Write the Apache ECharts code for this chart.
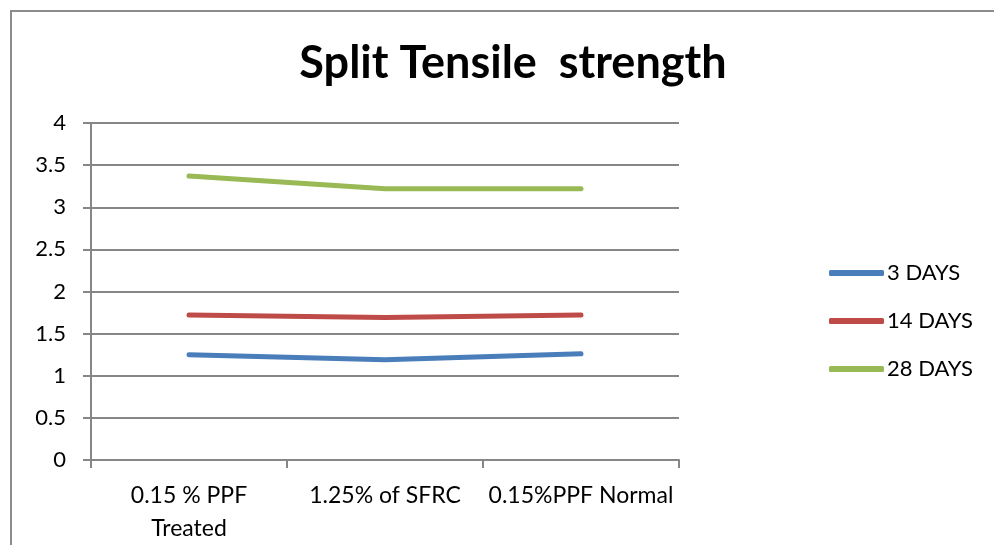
<!DOCTYPE html>
<html><head><meta charset="utf-8">
<script src="https://cdn.jsdelivr.net/npm/echarts@6/dist/echarts.min.js"></script>
<style>html,body{margin:0;padding:0;background:#fff;overflow:hidden}#c{width:994px;height:545px}</style>
</head><body><div id="c"></div>
<script>
const categories = ['0.15 % PPF\nTreated', '1.25% of SFRC', '0.15%PPF Normal'];
const days3 = [1.25, 1.19, 1.26];
const days14 = [1.72, 1.69, 1.72];
const days28 = [3.37, 3.22, 3.22];
const seriesNames = ['3 DAYS', '14 DAYS', '28 DAYS'];
const colors = ['#4A7EBB', '#BE4B48', '#98B954'];

const chart = echarts.init(document.getElementById('c'));
const font = 'Lato, "Open Sans", sans-serif';
function mk(name, data, color) {
  return {name, type: 'line', data, symbol: 'none', smooth: false,
    lineStyle: {color, width: 5, cap: 'round', join: 'round'}, itemStyle: {color}};
}
chart.setOption({
  animation: false,
  graphic: [{type: 'rect', shape: {x: 11, y: 11, width: 1000, height: 600},
    style: {fill: 'none', stroke: '#8c8c8c', lineWidth: 2}, silent: true}],
  title: {text: 'Split Tensile  strength', left: 508, top: 36, textAlign: 'center',
    textStyle: {fontFamily: font, fontWeight: 'bold', fontSize: 45, color: '#000'}},
  grid: {left: 91, top: 123, width: 588, height: 341, containLabel: false},
  legend: {orient: 'vertical', left: 829, top: 262, padding: 0, itemWidth: 55, itemHeight: 6, itemGap: 26,
    icon: 'roundRect',
    data: seriesNames, textStyle: {fontFamily: font, fontSize: 22, lineHeight: 22, color: '#000', padding: [0,0,0,-2]}},
  xAxis: {type: 'category', data: categories, boundaryGap: true,
    axisLine: {lineStyle: {color: '#868686', width: 2}},
    axisTick: {show: true, length: 8, lineStyle: {color: '#868686', width: 2}},
    axisLabel: {fontFamily: font, fontSize: 23, color: '#000', margin: 19, lineHeight: 33, interval: 0}},
  yAxis: {type: 'value', min: 0, max: 4, interval: 0.5,
    axisLine: {show: true, lineStyle: {color: '#868686', width: 2}},
    axisTick: {show: true, length: 8, lineStyle: {color: '#868686', width: 2}},
    splitLine: {lineStyle: {color: '#868686', width: 2}},
    axisLabel: {fontFamily: font, fontSize: 22, color: '#000', margin: 25}},
  series: [mk(seriesNames[0], days3, colors[0]), mk(seriesNames[1], days14, colors[1]), mk(seriesNames[2], days28, colors[2])]
});
</script></body></html>
